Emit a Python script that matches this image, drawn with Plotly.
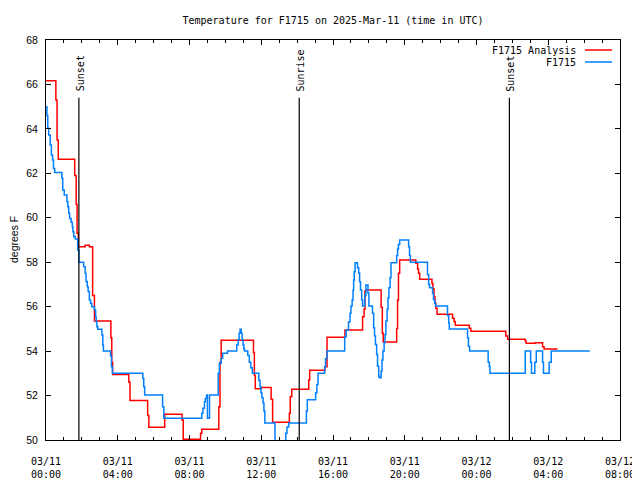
import pandas as pd
import plotly.graph_objects as go

# ---- data (minutes after 2025-03-11 00:00 UTC) ----
start = "2025-03-11 00:00"

analysis_min = [0, 33, 37, 41, 96, 101, 104, 108, 131, 145, 156, 162, 217, 220, 223,
                277, 281, 340, 344, 397, 455, 459, 517, 521, 578, 582, 586, 694, 697,
                700, 720, 753, 758, 814, 817, 822, 879, 882, 933, 940, 1000, 1059,
                1064, 1067, 1070, 1121, 1125, 1128, 1173, 1176, 1179, 1183, 1237,
                1243, 1246, 1250, 1291, 1294, 1298, 1301, 1304, 1308, 1360, 1365,
                1369, 1416, 1421, 1538, 1544, 1603, 1606, 1636, 1661, 1666, 1711]
analysis_val = [66.17, 65.3, 63.5, 62.63, 61.9, 60.6, 59.3, 58.7, 58.76, 58.7, 56.5,
                55.35, 54.6, 53.5, 52.95, 52.6, 51.78, 51.1, 50.57, 51.16, 50.9, 50.03,
                50.3, 50.48, 51.5, 53.5, 54.49, 53.94, 52.9, 52.31, 52.36, 51.83, 50.8,
                51.2, 51.95, 52.28, 52.7, 53.14, 53.3, 54.62, 54.95, 55.55, 55.88, 56.7,
                56.75, 55.97, 54.8, 54.41, 55.02, 56.3, 57.5, 58.1, 57.95, 57.7, 57.5,
                57.23, 57.05, 56.8, 56.45, 56.15, 55.93, 55.66, 55.48, 55.33, 55.16,
                55.03, 54.89, 54.68, 54.53, 54.45, 54.35, 54.38, 54.2, 54.1, 54.1]

obs_min = [0, 3, 6, 9, 14, 18, 22, 25, 29, 53, 56, 61, 70, 73, 76, 79, 84, 88, 90, 93,
           98, 106, 110, 126, 131, 134, 138, 141, 145, 149, 153, 162, 166, 168, 170,
           173, 187, 190, 192, 216, 219, 222, 324, 327, 330, 390, 394, 521, 525, 530,
           533, 537, 540, 547, 576, 580, 586, 591, 607, 638, 643, 646, 649, 653, 656,
           659, 662, 664, 675, 680, 685, 690, 712, 716, 719, 722, 726, 729, 732, 766,
           775, 788, 802, 806, 812, 871, 874, 902, 906, 910, 932, 935, 940, 999, 1004,
           1012, 1017, 1020, 1024, 1027, 1029, 1031, 1034, 1042, 1046, 1049, 1052,
           1056, 1059, 1066, 1070, 1077, 1080, 1092, 1096, 1099, 1102, 1106, 1109,
           1113, 1115, 1121, 1124, 1127, 1131, 1134, 1137, 1141, 1144, 1147, 1151,
           1154, 1173, 1176, 1179, 1183, 1213, 1216, 1219, 1276, 1280, 1283, 1293,
           1296, 1300, 1303, 1343, 1347, 1349, 1410, 1413, 1417, 1479, 1483, 1485,
           1603, 1621, 1624, 1635, 1640, 1661, 1664, 1683, 1690, 1819]
obs_val = [65.0, 64.6, 64.03, 63.72, 63.27, 62.82, 62.6, 62.22, 62.04, 61.78, 61.25,
           61.03, 60.72, 60.5, 60.2, 59.97, 59.8, 59.6, 59.37, 59.15, 59.04, 58.55, 58.0,
           57.8, 57.5, 57.13, 56.9, 56.68, 56.3, 56.15, 56.0, 55.85, 55.52, 55.32, 55.1,
           54.98, 54.72, 54.27, 54.0, 53.78, 53.3, 53.0, 52.77, 52.4, 52.02, 51.5, 50.98,
           51.2, 51.43, 51.72, 51.87, 52.02, 50.98, 52.02, 53.0, 53.45, 53.68, 53.9,
           54.0, 54.27, 54.52, 54.8, 54.98, 54.8, 54.52, 54.27, 54.1, 54.0, 53.8, 53.5,
           53.25, 53.0, 52.68, 52.4, 52.13, 51.9, 51.67, 51.3, 50.77, 49.5, 49.0, 49.0,
           50.3, 50.58, 50.77, 51.3, 51.81, 52.13, 52.5, 53.0, 53.3, 53.67, 54.0, 54.65,
           54.95, 55.32, 55.7, 56.03, 56.3, 56.75, 57.2, 57.57, 57.98, 57.75, 57.5,
           57.12, 56.75, 56.3, 56.03, 56.5, 56.97, 56.6, 56.03, 55.7, 55.05, 54.68,
           54.3, 53.85, 53.32, 52.87, 52.8, 53.1, 53.6, 54.0, 54.38, 54.75, 55.35,
           55.88, 56.4, 56.85, 57.3, 57.98, 58.3, 58.6, 58.8, 59.0, 58.7, 58.3, 58.0,
           57.45, 57.0, 56.85, 56.6, 56.32, 56.15, 56.03, 55.6, 55.27, 55.0, 54.6,
           54.22, 54.0, 53.5, 53.3, 53.0, 54.0, 53.5, 53.0, 53.5, 54.0, 53.5, 53.0,
           53.5, 54.0, 54.0]

event_names = ["Sunset", "Sunrise", "Sunset"]
event_min = [110, 847, 1550]

series_names = ["F1715 Analysis", "F1715"]
series_colors = ["#ff0000", "#0080ff"]

assert len(analysis_min) == len(analysis_val)
assert len(obs_min) == len(obs_val)

t0 = pd.Timestamp(start)
def to_time(mins):
    return [t0 + pd.Timedelta(minutes=m) for m in mins]

fig = go.Figure()
fig.add_trace(go.Scatter(x=to_time(analysis_min), y=analysis_val, mode="lines",
                         line=dict(color=series_colors[0], width=1.5, shape="hv"),
                         name=series_names[0], showlegend=False))
fig.add_trace(go.Scatter(x=to_time(obs_min), y=obs_val, mode="lines",
                         line=dict(color=series_colors[1], width=1.5, shape="hv"),
                         name=series_names[1], showlegend=False))

mono = "DejaVu Sans Mono"
sans = "Liberation Sans"

for name, m in zip(event_names, event_min):
    t = t0 + pd.Timedelta(minutes=m)
    fig.add_shape(type="line", xref="x", yref="y", x0=t, x1=t, y0=65.4, y1=50,
                  line=dict(color="black", width=1.2))
    fig.add_annotation(x=t, y=65.6, xref="x", yref="y", text=name, textangle=-90,
                       showarrow=False, xanchor="center", yanchor="bottom", xshift=1,
                       font=dict(family=mono, size=10, color="black"))

# page is offset by the body's 8px margin; plot area sits at page (46,40)-(620,440)
OFF = 8
W, H, L, T = 574, 400, 46, 40
FW, FH = 640 - OFF, 480 - OFF
def px(xp):
    return (xp - L) / W
def py(yp):
    return (T + H - yp) / H

for i, (name, col) in enumerate(zip(series_names, series_colors)):
    yc = 50 + 12 * i
    fig.add_annotation(x=px(578), y=py(yc), xref="paper", yref="paper", text=name,
                       showarrow=False, xanchor="right", yanchor="middle",
                       font=dict(family=mono, size=10, color="black"))
    fig.add_shape(type="line", xref="paper", yref="paper", x0=px(585), x1=px(612),
                  y0=py(yc), y1=py(yc), line=dict(color=col, width=1.5))

fig.add_annotation(x=px(14), y=0.5, xref="paper", yref="paper", text="degrees F",
                   textangle=-90, showarrow=False, xanchor="center", yanchor="middle",
                   borderpad=0,
                   font=dict(family=sans, size=10.5, color="black"))

fig.update_layout(
    width=FW, height=FH,
    margin=dict(l=L - OFF, r=FW - (L - OFF) - W, t=T - OFF, b=FH - (T - OFF) - H,
                autoexpand=False),
    paper_bgcolor="white", plot_bgcolor="white",
    title=dict(text="Temperature for F1715 on 2025-Mar-11 (time in UTC)",
               x=(333 - OFF) / FW, xanchor="center", y=1 - (20 - OFF) / FH,
               yanchor="middle", yref="container",
               font=dict(family=mono, size=10, color="black")),
    showlegend=False,
)
fig.update_xaxes(
    range=[t0, t0 + pd.Timedelta(hours=32)], automargin=False,
    tick0=t0, dtick=4 * 3600000, tickformat="%m/%d<br>%H:%M",
    ticks="inside", ticklen=5, tickcolor="black", tickwidth=1,
    minor=dict(ticks="inside", ticklen=3, dtick=3600000, tickcolor="black", showgrid=False),
    showline=True, linecolor="black", linewidth=1, mirror="ticks",
    showgrid=False, zeroline=False, ticklabelstandoff=12,
    tickfont=dict(family=mono, size=10, color="black"),
)
fig.update_yaxes(
    range=[50, 68], dtick=2, tick0=50, automargin=False,
    ticks="inside", ticklen=5, tickcolor="black", tickwidth=1,
    showline=True, linecolor="black", linewidth=1, mirror="ticks",
    showgrid=False, zeroline=False, ticklabelstandoff=5,
    tickfont=dict(family=sans, size=10.5, color="black"),
)

fig.write_html("out.html")
